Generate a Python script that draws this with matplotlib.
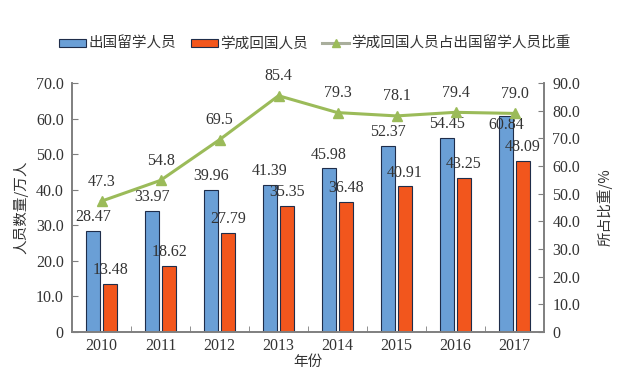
import matplotlib
matplotlib.use("Agg")
import matplotlib.pyplot as plt
from matplotlib.lines import Line2D
import numpy as np

years = ["2010", "2011", "2012", "2013", "2014", "2015", "2016", "2017"]
outbound = [28.47, 33.97, 39.96, 41.39, 45.98, 52.37, 54.45, 60.84]
returned = [13.48, 18.62, 27.79, 35.35, 36.48, 40.91, 43.25, 48.09]
ratio = [47.3, 54.8, 69.5, 85.4, 79.3, 78.1, 79.4, 79.0]
left_ticks = [0, 10, 20, 30, 40, 50, 60, 70]
right_ticks = [0, 10, 20, 30, 40, 50, 60, 70, 80, 90]

FAM = ["Liberation Serif", "Noto Sans CJK SC", "DejaVu Sans"]
CJK = ["Noto Sans CJK SC", "DejaVu Sans"]
plt.rcParams["font.family"] = FAM

blue = "#6A9FD6"
orange = "#F2561D"
green = "#9BBB59"
txt = "#333333"
spine = "#7F7F7F"

fig = plt.figure(figsize=(6.24, 3.8), dpi=100)
ax = fig.add_axes([0.1154, 0.1263, 0.7564, 0.6553])
ax2 = ax.twinx()

x = np.arange(len(years))
w = 0.23
off = 0.145
ax.bar(x - off, outbound, w, color=blue, edgecolor="#1F2D4A", linewidth=0.8, zorder=2, label="出国留学人员")
ax.bar(x + off, returned, w, color=orange, edgecolor="#1F2D4A", linewidth=0.8, zorder=2, label="学成回国人员")
ln, = ax2.plot(x, ratio, color=green, linewidth=2.2, marker="^", markersize=7,
               markerfacecolor=green, markeredgecolor=green, label="学成回国人员占出国留学人员比重")

n = len(years)
for i, (xi, v) in enumerate(zip(x, outbound)):
    dy = 10 if i < n - 1 else -7
    ax.annotate(f"{v:.2f}", (xi - off, v), xytext=(0, dy), textcoords="offset points",
                ha="center", va="center", fontsize=11.5, color=txt, zorder=5)
for xi, v in zip(x, returned):
    ax.annotate(f"{v:.2f}", (xi + off, v), xytext=(0, 10), textcoords="offset points",
                ha="center", va="center", fontsize=11.5, color=txt, zorder=5)
for xi, v in zip(x, ratio):
    ax2.annotate(f"{v:.1f}", (xi, v), xytext=(0, 14), textcoords="offset points",
                 ha="center", va="center", fontsize=11.5, color=txt)

ax.set_xlim(-0.5, n - 0.5)
ax.set_ylim(0, 70)
ax2.set_ylim(0, 90)
ax.set_yticks(left_ticks)
ax.set_yticklabels(["0" if t == 0 else f"{t:.1f}" for t in left_ticks], fontsize=11.5, color=txt)
ax2.set_yticks(right_ticks)
ax2.set_yticklabels(["0" if t == 0 else f"{t:.1f}" for t in right_ticks], fontsize=11.5, color=txt)

ax.set_xticks(x)
ax.set_xticklabels(years, fontsize=11.5, color=txt)
ax.tick_params(axis="x", length=0, pad=4)
ax.set_xticks(np.arange(0.5, n - 0.5, 1), minor=True)
ax.tick_params(axis="x", which="minor", direction="in", length=4, color=spine)
ax.tick_params(axis="y", direction="in", length=4, color=spine, pad=6)
ax2.tick_params(axis="y", direction="in", length=4, color=spine, pad=6)

for a in (ax, ax2):
    a.spines["top"].set_visible(False)
    for s in ("left", "right", "bottom"):
        a.spines[s].set_color(spine)
        a.spines[s].set_linewidth(1.2)

ax.set_ylabel("人员数量/万人", fontsize=10.5, color=txt, family=CJK, labelpad=5)
ax2.set_ylabel("所占比重/%", fontsize=10.5, color=txt, family=CJK, rotation=90, labelpad=12)
ax.set_xlabel("年份", fontsize=10.5, color=txt, family=CJK, labelpad=1)

h1, l1 = ax.get_legend_handles_labels()
line_handle = Line2D([], [], color="#A9AE9C", linewidth=2.2, marker="^", markersize=6,
                     markerfacecolor=green, markeredgecolor=green)
leg = fig.legend(h1 + [line_handle], l1 + [ln.get_label()], loc="center", bbox_to_anchor=(0.505, 0.884),
                 ncol=3, frameon=False, prop={"family": CJK, "size": 10.5},
                 handlelength=1.85, handleheight=0.5, handletextpad=0.15, columnspacing=1.0,
                 labelcolor=txt)

fig.savefig("out.png", dpi=100, facecolor="white")
